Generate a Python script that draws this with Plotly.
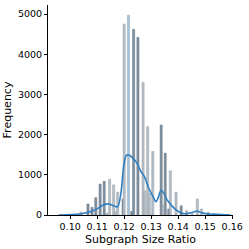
import plotly.graph_objects as go

# Histogram bars (ratio value, frequency)
dark_x = [0.1066, 0.1081, 0.1095, 0.1111, 0.1126, 0.1196, 0.1228, 0.1235, 0.1251,
          0.1337, 0.1352, 0.1365, 0.1411, 0.1511]
dark_y = [275, 190, 430, 770, 840, 400, 90, 4620, 4420,
          2240, 1540, 150, 230, 60]

light_x = [0.1040, 0.1136, 0.1146, 0.1161, 0.1167, 0.1176, 0.1200, 0.1270, 0.1276,
           0.1287, 0.1293, 0.1306, 0.1344, 0.1371, 0.1392, 0.1431, 0.1452, 0.1471,
           0.1486, 0.1532]
light_y = [75, 50, 890, 750, 80, 570, 4750, 3300, 600,
           2200, 540, 1580, 250, 1100, 570, 110, 30, 400,
           150, 40]

blue_x = [0.1216]
blue_y = [4970]

# KDE curve
kde_x = [0.0957, 0.1037, 0.1074, 0.1103, 0.1124, 0.1142, 0.1161, 0.1176, 0.1188,
         0.1198, 0.1208, 0.1218, 0.1233, 0.1248, 0.1262, 0.1275, 0.1291, 0.1307,
         0.1318, 0.1325, 0.1337, 0.1347, 0.1359, 0.1374, 0.1392, 0.1415, 0.1439,
         0.1458, 0.1470, 0.1485, 0.1507, 0.1545, 0.1594]
kde_y = [0, 25, 80, 165, 255, 275, 230, 205, 540,
         1200, 1485, 1490, 1410, 1285, 1080, 955, 665, 455,
         330, 415, 620, 540, 375, 250, 125, 40, 40,
         75, 100, 60, 25, 15, 0]

x_ticks = [0.10, 0.11, 0.12, 0.13, 0.14, 0.15, 0.16]
x_tick_labels = ["0.10", "0.11", "0.12", "0.13", "0.14", "0.15", "0.16"]
y_ticks = [0, 1000, 2000, 3000, 4000, 5000]

W = 0.0008
fig = go.Figure()
fig.add_trace(go.Bar(x=dark_x, y=dark_y, width=W, marker=dict(color="#7d8fa0", line=dict(color="#6e7a86", width=0.5)), showlegend=False))
fig.add_trace(go.Bar(x=light_x, y=light_y, width=W, marker=dict(color="#b4bec8", line=dict(color="#9aa3ab", width=0.5)), showlegend=False))
fig.add_trace(go.Bar(x=blue_x, y=blue_y, width=W, marker=dict(color="#a3c6e0", line=dict(color="#9aa3ab", width=0.5)), showlegend=False))
fig.add_trace(go.Scatter(x=kde_x, y=kde_y, mode="lines", line=dict(color="#2f7fc1", width=1.6, shape="spline", smoothing=0.8), showlegend=False))

fig.update_layout(
    width=249, height=249,
    margin=dict(l=48, r=16, t=5, b=34),
    plot_bgcolor="white", paper_bgcolor="white",
    barmode="overlay",
    font=dict(family="DejaVu Sans", color="black"),
    xaxis=dict(range=[0.0918, 0.1603], tickvals=x_ticks, ticktext=x_tick_labels,
               showline=True, linecolor="black", linewidth=1, ticks="outside",
               ticklen=3, tickcolor="black", showgrid=False, zeroline=False,
               tickfont=dict(size=9.5),
               title=dict(text="Subgraph Size Ratio", font=dict(size=11), standoff=3)),
    yaxis=dict(range=[0, 5225], tickvals=y_ticks,
               showline=True, linecolor="black", linewidth=1, ticks="outside",
               ticklen=3, tickcolor="black", showgrid=False, zeroline=False,
               tickfont=dict(size=9.5),
               title=dict(text="Frequency", font=dict(size=11), standoff=4)),
)

fig.write_html("out.html", config={"displayModeBar": False, "staticPlot": True})

with open("out.html", "r", encoding="utf-8") as f:
    html = f.read()
html = html.replace("<head>", "<head><style>html,body{margin:0;padding:0;overflow:hidden}</style>", 1)
with open("out.html", "w", encoding="utf-8") as f:
    f.write(html)
